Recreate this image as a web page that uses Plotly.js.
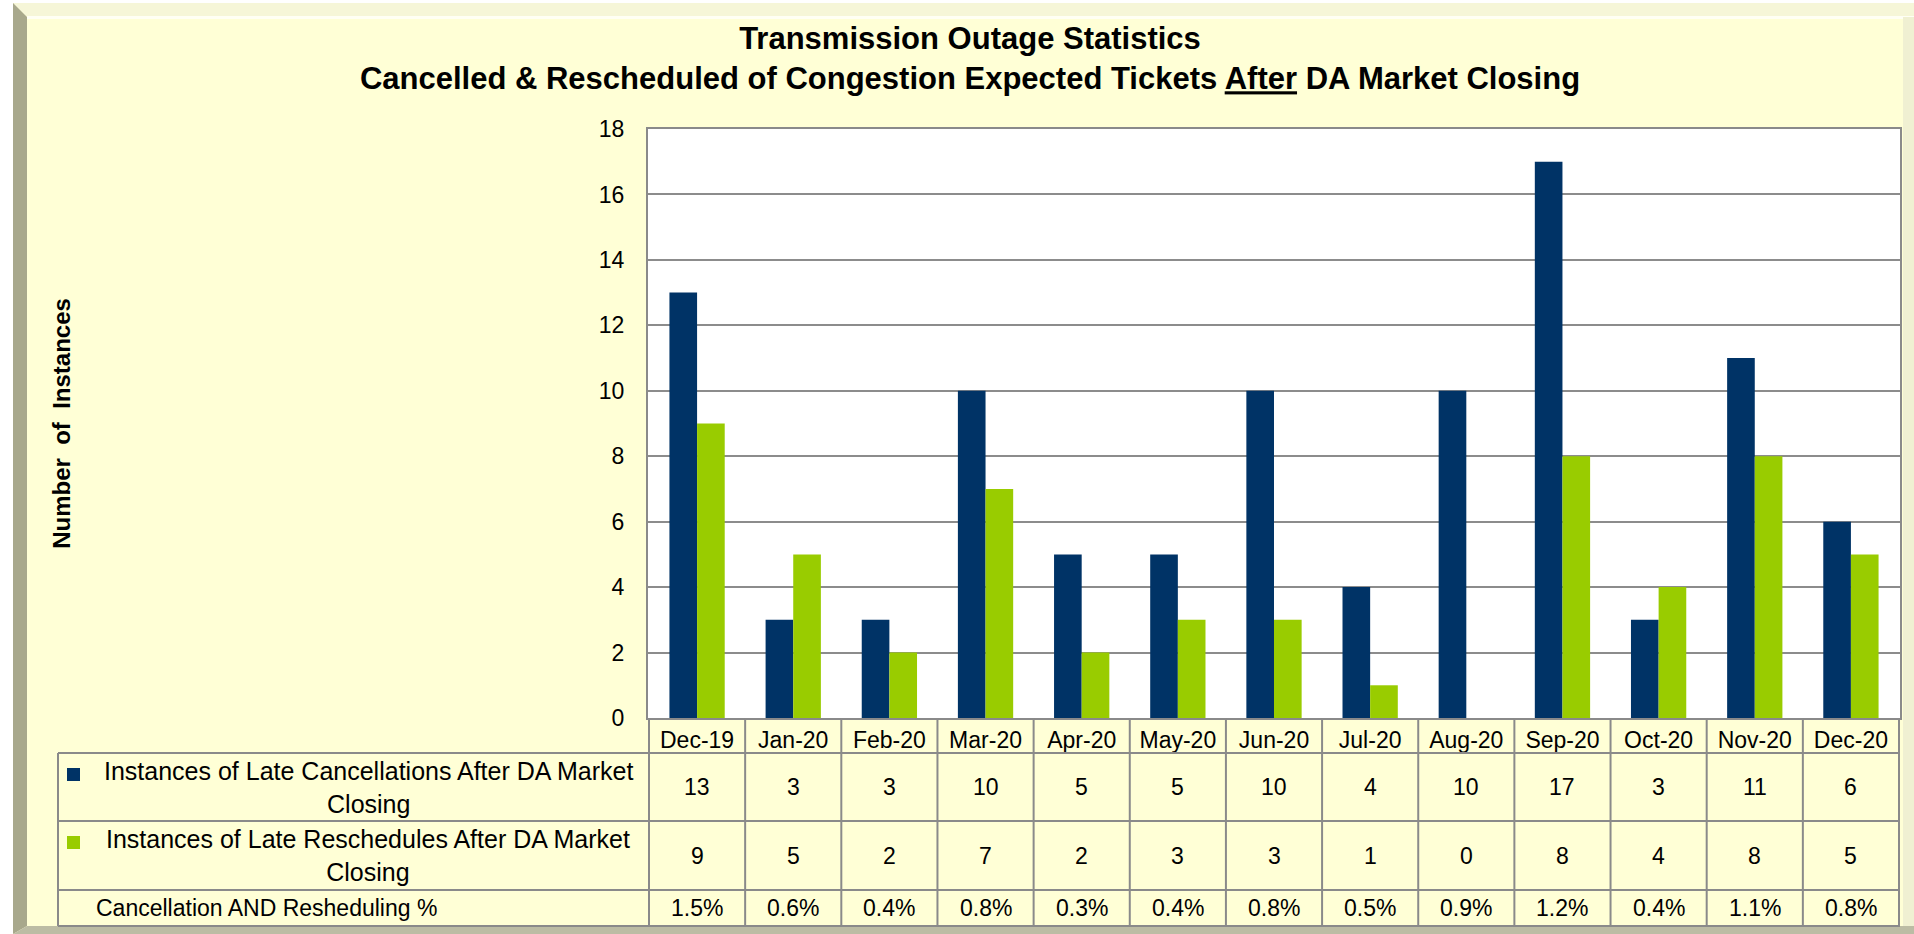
<!DOCTYPE html>
<html>
<head>
<meta charset="utf-8">
<script src="https://cdn.plot.ly/plotly-3.0.1.min.js"></script>
<style>
html,body{margin:0;padding:0;background:#ffffff;}
#chart{width:1914px;height:934px;}
</style>
</head>
<body>
<div id="chart"></div>
<script>
// ---- data ----
const categories = ['Dec-19','Jan-20','Feb-20','Mar-20','Apr-20','May-20','Jun-20','Jul-20','Aug-20','Sep-20','Oct-20','Nov-20','Dec-20'];
const cancellationsName = 'Instances of Late Cancellations After DA Market<br>Closing';
const cancellations = [13,3,3,10,5,5,10,4,10,17,3,11,6];
const reschedulesName = 'Instances of Late Reschedules After DA Market<br>Closing';
const reschedules = [9,5,2,7,2,3,3,1,0,8,4,8,5];
const percentName = 'Cancellation AND Resheduling %';
const percentages = ['1.5%','0.6%','0.4%','0.8%','0.3%','0.4%','0.8%','0.5%','0.9%','1.2%','0.4%','1.1%','0.8%'];
const yTicks = [0,2,4,6,8,10,12,14,16,18];

// ---- layout geometry (pixels) ----
const W = 1914, H = 934;
const L = 648, R = 1900, T = 129, B = 718;
const BLUE = '#003366', GREEN = '#99CC00';
const GRID = '#8c8c8c', LINE = '#8a8a8a';
const BG = '#FFFFD6';
const FONT = 'Arial, "Liberation Sans", sans-serif';

const px = v => (v - L) / (R - L);
const py = v => (B - v) / (B - T);

const traces = [
  {type:'bar', name:cancellationsName, x:categories, y:cancellations, marker:{color:BLUE}, hoverinfo:'x+y'},
  {type:'bar', name:reschedulesName, x:categories, y:reschedules, marker:{color:GREEN}, hoverinfo:'x+y'}
];

// table rows (pixel rows)
const rowTop = 753, row1 = 821, row2 = 890, rowBot = 926, tableLeft = 58;
const shapes = [];
function hline(yp, x0p, x1p){
  shapes.push({type:'line', xref:'paper', yref:'paper', x0:px(x0p), x1:px(x1p), y0:py(yp), y1:py(yp), line:{color:LINE, width:2}});
}
hline(rowTop, tableLeft, R);
hline(row1, tableLeft, R);
hline(row2, tableLeft, R);
hline(rowBot, tableLeft, R);
shapes.push({type:'line', xref:'paper', yref:'paper', x0:px(tableLeft), x1:px(tableLeft), y0:py(rowTop), y1:py(rowBot), line:{color:LINE, width:2}});
for (let i = 0; i <= categories.length; i++) {
  shapes.push({type:'line', xref:'x', yref:'paper', x0:i-0.5, x1:i-0.5, y0:py(B), y1:py(rowBot), line:{color:LINE, width:2}});
}
// legend keys
shapes.push({type:'rect', xref:'paper', yref:'paper', x0:px(67), x1:px(80), y0:py(768), y1:py(781), fillcolor:BLUE, line:{width:0}});
shapes.push({type:'rect', xref:'paper', yref:'paper', x0:px(67), x1:px(80), y0:py(836), y1:py(849), fillcolor:GREEN, line:{width:0}});

// frame / bevel (outside plot area)
function poly(pts, color){
  const d = pts.map((p,i)=>(i?'L':'M')+px(p[0])+','+py(p[1])).join(' ')+' Z';
  shapes.push({type:'path', xref:'paper', yref:'paper', path:d, fillcolor:color, line:{width:0}, layer:'below'});
}
poly([[0,0],[W,0],[W,3],[0,3]], '#ffffff');
poly([[0,0],[13,0],[13,H],[0,H]], '#ffffff');
poly([[13,3],[W,3],[W,17],[27,17]], '#F6F6D8');
poly([[27,16],[W,16],[W,19],[27,19]], '#FFFFF4');
poly([[13,3],[27,17],[27,926],[13,934]], '#A8A88C');
poly([[13,934],[27,926],[W,926],[W,934]], '#BCBCA4');
poly([[1903,17],[W,17],[W,926],[1903,926]], '#F0F0D2');

const annotations = [];
const cellFont = {family:FONT, size:23, color:'#000'};
const labelFont = {family:FONT, size:25, color:'#000'};
const rowCenter1 = (rowTop + row1) / 2, rowCenter2 = (row1 + row2) / 2, rowCenter3 = (row2 + rowBot) / 2;
categories.forEach((c, i) => {
  annotations.push({xref:'x', yref:'paper', x:c, y:py(rowCenter1), xanchor:'center', yanchor:'middle', text:String(cancellations[i]), showarrow:false, font:cellFont});
  annotations.push({xref:'x', yref:'paper', x:c, y:py(rowCenter2), xanchor:'center', yanchor:'middle', text:String(reschedules[i]), showarrow:false, font:cellFont});
  annotations.push({xref:'x', yref:'paper', x:c, y:py(rowCenter3), xanchor:'center', yanchor:'middle', text:percentages[i], showarrow:false, font:cellFont});
});
annotations.push({xref:'paper', yref:'paper', x:px(368), y:py(rowCenter1), xanchor:'center', yanchor:'middle', text:cancellationsName, showarrow:false, align:'center', font:labelFont});
annotations.push({xref:'paper', yref:'paper', x:px(368), y:py(rowCenter2), xanchor:'center', yanchor:'middle', text:reschedulesName, showarrow:false, align:'center', font:labelFont});
annotations.push({xref:'paper', yref:'paper', x:px(94), xanchor:'left', y:py(rowCenter3), yanchor:'middle', text:percentName, showarrow:false, align:'left', font:cellFont});

const layout = {
  width: W, height: H,
  margin: {l:L, r:W-R, t:T, b:H-B, pad:0},
  paper_bgcolor: BG,
  plot_bgcolor: '#ffffff',
  showlegend: false,
  barmode: 'group',
  bargap: 0.425,
  bargroupgap: 0,
  title: {
    text: '<b>Transmission Outage Statistics</b><br><b>Cancelled &amp; Rescheduled of Congestion Expected Tickets <u>After</u> DA Market Closing</b>',
    font: {family:FONT, size:31, color:'#000'},
    xref:'container', x: 970/W, xanchor:'center',
    yref:'container', y: 1 - 49/H, yanchor:'top'
  },
  xaxis: {
    type:'category', tickmode:'array', tickvals:categories, ticktext:categories,
    showgrid:false, showline:true, linecolor:LINE, linewidth:2, mirror:true,
    ticks:'', tickfont:{family:FONT, size:23, color:'#000'}, zeroline:false
  },
  yaxis: {
    range:[0,18], tickmode:'array', tickvals:yTicks,
    showgrid:true, gridcolor:GRID, gridwidth:2,
    showline:true, linecolor:LINE, linewidth:2, mirror:true,
    ticks:'', ticklabelstandoff:17, tickfont:{family:FONT, size:23, color:'#000'}, zeroline:false,
    title:{text:'<b>Number  of  Instances</b>', font:{family:FONT, size:24, color:'#000'}, standoff:521}
  },
  shapes: shapes,
  annotations: annotations
};

Plotly.newPlot('chart', traces, layout, {displayModeBar:false, staticPlot:true});
</script>
</body>
</html>
